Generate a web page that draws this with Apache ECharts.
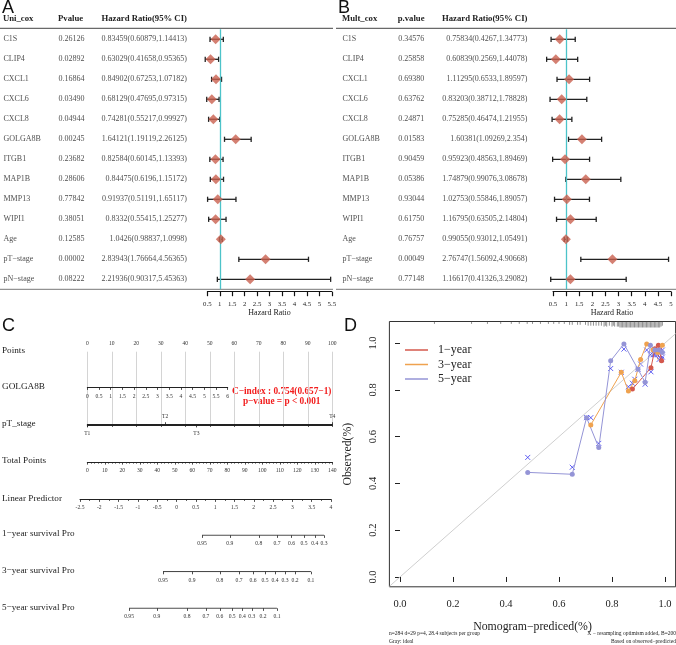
<!DOCTYPE html>
<html>
<head>
<meta charset="utf-8">
<script src="https://cdn.jsdelivr.net/npm/echarts@6/dist/echarts.min.js"></script>
<style>html,body{margin:0;padding:0;background:#fff}#main{width:676px;height:645px}</style>
</head>
<body>
<div id="main"></div>
<script>
// ---- data ----
var genes = ['C1S','CLIP4','CXCL1','CXCL6','CXCL8','GOLGA8B','ITGB1','MAP1B','MMP13','WIPI1','Age','pT\u2212stage','pN\u2212stage'];
var uniP = ['0.26126','0.02892','0.16864','0.03490','0.04944','0.00245','0.23682','0.28606','0.77842','0.38051','0.12585','0.00002','0.08222'];
var uniHR = [0.83459,0.63029,0.84902,0.68129,0.74281,1.64121,0.82584,0.84475,0.91937,0.8332,1.0426,2.83943,2.21936];
var uniLow = [0.60879,0.41658,0.67253,0.47695,0.55217,1.19119,0.60145,0.6196,0.51191,0.55415,0.98837,1.76664,0.90317];
var uniHigh = [1.14413,0.95365,1.07182,0.97315,0.99927,2.26125,1.13393,1.15172,1.65117,1.25277,1.0998,4.56365,5.45363];
var multP = ['0.34576','0.25858','0.69380','0.63762','0.24871','0.01583','0.90459','0.05386','0.93044','0.61750','0.76757','0.00049','0.77148'];
var multHR = [0.75834,0.60839,1.11295,0.83203,0.75285,1.60381,0.95923,1.74879,1.02753,1.16795,0.99055,2.76747,1.16617];
var multLow = [0.4267,0.2569,0.6533,0.38712,0.46474,1.09269,0.48563,0.99076,0.55846,0.63505,0.93012,1.56092,0.41326];
var multHigh = [1.34773,1.44078,1.89597,1.78828,1.21955,2.354,1.89469,3.08678,1.89057,2.14804,1.05491,4.90668,3.29082];

// nomogram scales
var pointsRange = [0, 100];
var golgaRange = [0, 6];
var ptStages = ['T1','T2','T3','T4'];
var ptPoints = [0, 31.8, 44.5, 100];
var totalRange = [0, 140];
var lpRange = [-2.5, 4];
var surv1Labels = ['0.95','0.9','0.8','0.7','0.6','0.5','0.4','0.3'];
var surv1LP = [0.66,1.38,2.13,2.60,2.98,3.30,3.58,3.82];
var surv3Labels = ['0.95','0.9','0.8','0.7','0.6','0.5','0.4','0.3','0.2','0.1'];
var surv3LP = [-0.35,0.40,1.12,1.62,1.98,2.29,2.55,2.81,3.07,3.48];
var surv5Labels = ['0.95','0.9','0.8','0.7','0.6','0.5','0.4','0.3','0.2','0.1'];
var surv5LP = [-1.23,-0.51,0.27,0.76,1.12,1.44,1.70,1.95,2.24,2.60];

// calibration
var calTicks = [0, 0.2, 0.4, 0.6, 0.8, 1.0];
var cal1Pred = [0.877,0.947,0.962,0.975,0.987];
var cal1Obs = [0.803,0.894,0.975,0.99,0.924];
var cal1X = [0.828,0.877,0.96,0.97,0.93];
var cal1ErrLow = [null,null,null,0.94,0.92];
var cal1ErrHigh = [null,null,null,1.0,0.985];
var cal3Pred = [0.72,0.835,0.862,0.886,0.908,0.931,0.955,0.972,0.99];
var cal3Obs = [0.65,0.875,0.795,0.839,0.930,0.996,0.97,0.96,0.99];
var cal3X = [0.681,0.875,0.813,0.845,0.91,0.97,0.95,0.95,0.97];
var cal3ErrLow = [null,null,null,null,null,null,0.94,0.93,null];
var cal3ErrHigh = [null,null,null,null,null,null,0.99,0.99,null];
var cal5Pred = [0.482,0.65,0.704,0.75,0.795,0.845,0.898,0.925,0.945,0.962,0.978,0.99];
var cal5Obs = [0.447,0.439,0.681,0.553,0.924,0.996,0.888,0.832,0.99,0.97,0.97,0.96];
var cal5X = [0.511,0.469,0.681,0.571,0.891,0.974,0.888,0.824,0.95,0.95,0.93,0.94];
var cal5ErrLow = [null,null,null,null,null,null,null,null,null,null,null,null];
var cal5ErrHigh = [null,null,null,null,null,null,null,null,null,null,null,null];
var rugPred = [0.13,0.27,0.33,0.38,0.42,0.45,0.48,0.50,0.53,0.56,0.58,0.60,0.62,0.64,0.65,0.67,0.68,0.70,0.71,0.72,
    0.73,0.74,0.75,0.76,0.77,0.775,0.78,0.79,0.80,0.805,0.81,0.82,0.825,0.83,0.835,0.84,0.845,0.85,0.855,0.86,
    0.865,0.87,0.875,0.88,0.885,0.89,0.895,0.9,0.905,0.91,0.915,0.92,0.925,0.93,0.935,0.94,0.945,0.95,0.955,0.96,
    0.965,0.97,0.975,0.98,0.985,0.99];

var SERIF = '"Liberation Serif", "DejaVu Serif", serif';
var SANS = '"Liberation Sans", Arial, sans-serif';

var myChart = echarts.init(document.getElementById('main'));

var grids = [], xAxes = [], yAxes = [], series = [], graphics = [];
function addGrid(g) { g.outerBoundsMode = 'none'; grids.push(g); return grids.length - 1; }
function addX(a) { xAxes.push(a); return xAxes.length - 1; }
function addY(a) { yAxes.push(a); return yAxes.length - 1; }
function text(t, x, y, opt) {
    opt = opt || {};
    graphics.push({type: 'text', silent: true, x: x, y: y, style: {
        text: t, fill: opt.color || '#222', textAlign: opt.align || 'left', textVerticalAlign: 'middle',
        font: (opt.weight || 'normal') + ' ' + (opt.size || 8) + 'px ' + (opt.family || SERIF)
    }});
}
function hline(x1, x2, y, color) {
    graphics.push({type: 'line', silent: true, shape: {x1: x1, y1: y, x2: x2, y2: y}, style: {stroke: color, lineWidth: 1}});
}
function lookup(vals, labs) {
    return function (v) {
        for (var i = 0; i < vals.length; i++) if (Math.abs(vals[i] - v) < 1e-6) return labs[i];
        return '';
    };
}

// ---- forest panels (A, B) ----
var ROW_TOP = 29.3, ROW_H = 20;
function forestPanel(p) {
    var n = p.names.length;
    var gT = addGrid({left: p.x0, top: ROW_TOP, width: 200, height: ROW_H * n});
    var xT = addX({gridIndex: gT, type: 'value', min: 0, max: 200, show: false});
    var yT = addY({gridIndex: gT, type: 'category', data: p.names, inverse: true, show: false});
    function col(x, texts, side) {
        series.push({type: 'scatter', xAxisIndex: xT, yAxisIndex: yT, silent: true, symbolSize: 1,
            itemStyle: {color: 'rgba(0,0,0,0)'},
            data: texts.map(function (t, i) { return [x, i]; }),
            label: {show: true, position: side, distance: 0, fontFamily: SERIF, fontSize: 8, color: '#222',
                formatter: function (q) { return texts[q.dataIndex]; }}
        });
    }
    var hrText = p.hr.map(function (h, i) { return h + '(' + p.low[i] + ',' + p.high[i] + ')'; });
    col(p.nameX, p.names, 'right');
    col(p.pX, p.pv, 'right');
    col(p.hrX, hrText, 'left');

    var gP = addGrid({left: p.plotLeft, top: ROW_TOP, width: p.plotWidth, height: ROW_H * n});
    var xP = addX({gridIndex: gP, type: 'value', min: 0.5, max: p.max, interval: 0.5, position: 'bottom', offset: 2.4,
        axisLine: {show: true, lineStyle: {color: '#111', width: 1}},
        axisTick: {show: true, length: 4.5, lineStyle: {color: '#111', width: 1.2}},
        axisLabel: {fontFamily: SERIF, fontSize: 6.8, color: '#222', margin: 9},
        splitLine: {show: false},
        name: 'Hazard Ratio', nameLocation: 'middle', nameGap: 17,
        nameTextStyle: {fontFamily: SERIF, fontSize: 8, color: '#222'}});
    var yP = addY({gridIndex: gP, type: 'category', data: p.names, inverse: true, show: false});
    series.push({type: 'custom', xAxisIndex: xP, yAxisIndex: yP, silent: true, clip: false,
        data: p.hr.map(function (h, i) { return [p.low[i], p.high[i], i]; }),
        renderItem: function (params, api) {
            var a = api.coord([api.value(0), api.value(2)]);
            var b = api.coord([api.value(1), api.value(2)]);
            var c = 2.6, st = {stroke: '#222', lineWidth: 1.3};
            return {type: 'group', children: [
                {type: 'line', shape: {x1: a[0], y1: a[1], x2: b[0], y2: b[1]}, style: st},
                {type: 'line', shape: {x1: a[0], y1: a[1] - c, x2: a[0], y2: a[1] + c}, style: st},
                {type: 'line', shape: {x1: b[0], y1: b[1] - c, x2: b[0], y2: b[1] + c}, style: st}
            ]};
        },
        markLine: {silent: true, symbol: 'none', label: {show: false},
            lineStyle: {color: '#4cc3c9', width: 1.3, type: 'solid'}, data: [{xAxis: 1}]}
    });
    series.push({type: 'scatter', xAxisIndex: xP, yAxisIndex: yP, silent: true, symbol: 'diamond', symbolSize: [10, 10],
        itemStyle: {color: '#C9604F'}, z: 5,
        data: p.hr.map(function (h, i) { return [h, i]; })});

    text(p.letter, p.x0 + 2, 8, {size: 18, family: SANS, color: '#111'});
    text(p.heads[0], p.x0 + p.nameX, 19, {weight: 'bold', size: 8.7});
    text(p.heads[1], p.x0 + p.pX, 19, {weight: 'bold', size: 8.7});
    text(p.heads[2], p.x0 + p.hX, 19, {weight: 'bold', size: 8.7});
    hline(p.x0, p.x0 + p.lineW, 28.3, '#444');
    hline(p.x0, p.x0 + p.lineW, 289.3, '#777');
}

forestPanel({letter: 'A', x0: 0, nameX: 3, pX: 58, hrX: 187.3, hX: 101.5, lineW: 333,
    heads: ['Uni_cox', 'Pvalue', 'Hazard Ratio(95% CI)'],
    names: genes, pv: uniP, hr: uniHR, low: uniLow, high: uniHigh,
    plotLeft: 207.3, plotWidth: 124.5, max: 5.5});
forestPanel({letter: 'B', x0: 336, nameX: 6, pX: 61.7, hrX: 192, hX: 106, lineW: 340,
    heads: ['Mult_cox', 'p.value', 'Hazard Ratio(95% CI)'],
    names: genes, pv: multP, hr: multHR, low: multLow, high: multHigh,
    plotLeft: 553, plotWidth: 118, max: 5});

// ---- nomogram (C) ----
var tickStyle = {color: '#222', width: 0.8};
var nomoLabel = {fontFamily: SERIF, fontSize: 5.6, color: '#333', margin: 5.5, hideOverlap: false};
var lineOn = {show: true, lineStyle: {color: '#222', width: 1}};
function hiddenY(g) { return addY({gridIndex: g, type: 'value', min: 0, max: 1, show: false}); }

// Points
var gPts = addGrid({left: 87.3, top: 351.7, width: 245, height: 72.6});
addX({gridIndex: gPts, type: 'value', position: 'top', min: pointsRange[0], max: pointsRange[1], interval: 10,
    axisLine: lineOn,
    axisTick: {show: true, inside: true, length: 2.6, lineStyle: tickStyle},
    minorTick: {show: true, splitNumber: 5, length: 1.6, lineStyle: tickStyle},
    axisLabel: Object.assign({}, nomoLabel, {margin: 5}),
    splitLine: {show: true, lineStyle: {color: '#d4d4d4', width: 1}}});
hiddenY(gPts);

// GOLGA8B
var gGol = addGrid({left: 87.3, top: 377, width: 140.4, height: 10.3});
addX({gridIndex: gGol, type: 'value', position: 'bottom', min: golgaRange[0], max: golgaRange[1], interval: 0.5,
    axisLine: lineOn,
    axisTick: {show: true, length: 2.6, lineStyle: tickStyle},
    axisLabel: Object.assign({}, nomoLabel, {margin: 6.5}), splitLine: {show: false}});
hiddenY(gGol);

// pT_stage
var gPt = addGrid({left: 87.3, top: 423.8, width: 245, height: 1});
addX({gridIndex: gPt, type: 'value', position: 'top', min: pointsRange[0], max: pointsRange[1],
    axisLine: {show: false},
    axisTick: {show: true, length: 2.6, lineStyle: tickStyle, customValues: [ptPoints[1], ptPoints[3]]},
    axisLabel: Object.assign({}, nomoLabel, {margin: 4.5, customValues: [ptPoints[1], ptPoints[3]], formatter: lookup(ptPoints, ptStages)}),
    splitLine: {show: false}});
addX({gridIndex: gPt, type: 'value', position: 'bottom', min: pointsRange[0], max: pointsRange[1],
    axisLine: lineOn,
    axisTick: {show: true, length: 2.6, lineStyle: tickStyle, customValues: [ptPoints[0], ptPoints[2]]},
    axisLabel: Object.assign({}, nomoLabel, {customValues: [ptPoints[0], ptPoints[2]], formatter: lookup(ptPoints, ptStages)}),
    splitLine: {show: false}});
hiddenY(gPt);

// Total Points
var gTot = addGrid({left: 87.3, top: 452, width: 245, height: 10});
addX({gridIndex: gTot, type: 'value', position: 'bottom', min: totalRange[0], max: totalRange[1], interval: 10,
    axisLine: lineOn,
    axisTick: {show: true, length: 2.6, lineStyle: tickStyle},
    minorTick: {show: true, splitNumber: 5, length: 1.6, lineStyle: tickStyle},
    axisLabel: nomoLabel, splitLine: {show: false}});
hiddenY(gTot);

// Linear predictor
var gLp = addGrid({left: 80, top: 489.3, width: 251, height: 10});
addX({gridIndex: gLp, type: 'value', position: 'bottom', min: lpRange[0], max: lpRange[1], interval: 0.5,
    axisLine: lineOn,
    axisTick: {show: true, length: 2.6, lineStyle: tickStyle},
    minorTick: {show: true, splitNumber: 2, length: 1.6, lineStyle: tickStyle},
    axisLabel: Object.assign({}, nomoLabel, {margin: 5}), splitLine: {show: false}});
hiddenY(gLp);

// survival scales
function survRow(bottomY, lps, labs) {
    var g = addGrid({left: 80, top: bottomY - 10, width: 251, height: 10});
    var xi = addX({gridIndex: g, type: 'value', position: 'bottom', min: lpRange[0], max: lpRange[1],
        axisLine: {show: false},
        axisTick: {show: true, length: 2.6, lineStyle: tickStyle, customValues: lps},
        axisLabel: Object.assign({}, nomoLabel, {customValues: lps, formatter: lookup(lps, labs)}),
        splitLine: {show: false}});
    var yi = hiddenY(g);
    series.push({type: 'line', xAxisIndex: xi, yAxisIndex: yi, silent: true, symbol: 'none',
        lineStyle: {color: '#222', width: 1},
        data: [[lps[0], 0], [lps[lps.length - 1], 0]]});
}
survRow(535.3, surv1LP, surv1Labels);
survRow(571.7, surv3LP, surv3Labels);
survRow(608.3, surv5LP, surv5Labels);

var rowNames = [['Points', 351.7], ['GOLGA8B', 387.7], ['pT_stage', 424.3], ['Total Points', 461.7],
    ['Linear Predictor', 499.3], ['1\u2212year survival Pro', 535], ['3\u2212year survival Pro', 571.7], ['5\u2212year survival Pro', 608.3]];
rowNames.forEach(function (r) { text(r[0], 2, r[1] - 1, {size: 9.2}); });
text('C', 2, 326, {size: 18, family: SANS, color: '#111'});
text('C\u2212index : 0.754(0.657\u22121)', 281.7, 391.7, {size: 9.3, weight: 'bold', color: '#f21c1c', align: 'center'});
text('p\u2212value = p < 0.001', 281.7, 401.7, {size: 9.3, weight: 'bold', color: '#f21c1c', align: 'center'});

// ---- calibration (D) ----
var xMin = -0.04, xMax = 1.04, yMin = -0.042, yMax = 1.092;
var gD = addGrid({left: 389.4, top: 321.5, width: 286.2, height: 265.3, show: true, borderColor: '#333', borderWidth: 1});
var xD = addX({gridIndex: gD, type: 'value', min: xMin, max: xMax,
    axisLine: {show: false},
    axisTick: {show: true, customValues: calTicks, length: 5, lineStyle: {color: '#222', width: 1}},
    axisLabel: {customValues: calTicks, formatter: function (v) { return v.toFixed(1); },
        fontFamily: SERIF, fontSize: 10.5, color: '#222', margin: 12},
    splitLine: {show: false},
    name: 'Nomogram\u2212prediced(%)', nameLocation: 'middle', nameGap: 34,
    nameTextStyle: {fontFamily: SERIF, fontSize: 11.8, color: '#222'}});
var yD = addY({gridIndex: gD, type: 'value', min: yMin, max: yMax,
    axisLine: {show: false},
    axisTick: {show: true, customValues: calTicks, length: 5, lineStyle: {color: '#222', width: 1}},
    axisLabel: {customValues: calTicks, formatter: function (v) { return v.toFixed(1); }, rotate: 90,
        fontFamily: SERIF, fontSize: 10.5, color: '#222', margin: 11},
    splitLine: {show: false},
    name: 'Observed(%)', nameLocation: 'middle', nameGap: 36,
    nameTextStyle: {fontFamily: SERIF, fontSize: 11.8, color: '#222'}});

series.push({type: 'line', xAxisIndex: xD, yAxisIndex: yD, silent: true, symbol: 'none',
    lineStyle: {color: '#cfcfcf', width: 1}, data: [[xMin, xMin], [xMax, xMax]]});

// distribution of predicted values along the top edge; tick length grows with local density
series.push({type: 'custom', xAxisIndex: xD, yAxisIndex: yD, silent: true,
    data: rugPred.map(function (p) { return [p]; }),
    renderItem: function (params, api) {
        var v = api.value(0);
        var near = rugPred.filter(function (q) { return Math.abs(q - v) <= 0.012; }).length;
        var x = api.coord([v, yMax])[0];
        var top = params.coordSys.y;
        var len = Math.min(1.5 + near * 0.9, 7);
        return {type: 'line', shape: {x1: x, y1: top, x2: x, y2: top + len}, style: {stroke: '#444', lineWidth: 0.6}};
    }});

var calSets = [
    {name: '1\u2212year', color: '#D4584C', pred: cal1Pred, obs: cal1Obs, x: cal1X, lo: cal1ErrLow, hi: cal1ErrHigh},
    {name: '3\u2212year', color: '#EFA24F', pred: cal3Pred, obs: cal3Obs, x: cal3X, lo: cal3ErrLow, hi: cal3ErrHigh},
    {name: '5\u2212year', color: '#9494D6', pred: cal5Pred, obs: cal5Obs, x: cal5X, lo: cal5ErrLow, hi: cal5ErrHigh}
];
calSets.forEach(function (s) {
    // dashed error bars where they are visible in the cluster
    series.push({type: 'custom', xAxisIndex: xD, yAxisIndex: yD, silent: true,
        data: s.pred.map(function (p, i) { return [p, s.lo[i], s.hi[i]]; })
            .filter(function (d) { return d[1] != null; }),
        renderItem: function (params, api) {
            var a = api.coord([api.value(0), api.value(1)]);
            var b = api.coord([api.value(0), api.value(2)]);
            return {type: 'line', shape: {x1: a[0], y1: a[1], x2: b[0], y2: b[1]},
                style: {stroke: s.color, lineWidth: 1, lineDash: [2, 2]}};
        }});
    series.push({name: s.name, type: 'line', xAxisIndex: xD, yAxisIndex: yD, silent: true,
        symbol: 'circle', symbolSize: 5, color: s.color, lineStyle: {width: 1},
        data: s.pred.map(function (p, i) { return [p, s.obs[i]]; })});
    series.push({type: 'scatter', xAxisIndex: xD, yAxisIndex: yD, silent: true,
        symbol: 'path://M0,0L10,10M10,0L0,10', symbolSize: 5,
        itemStyle: {color: 'rgba(0,0,0,0)', borderColor: '#3838F0', borderWidth: 1},
        data: s.pred.map(function (p, i) { return [p, s.x[i]]; })});
});

text('D', 344, 326, {size: 18, family: SANS, color: '#111'});
text('n=284 d=29 p=4, 28.4 subjects per group', 389, 634, {size: 5.5});
text('Gray: ideal', 389, 641.5, {size: 5.5});
text('X \u2212 resampling optimism added, B=200', 676, 634, {size: 5.5, align: 'right'});
text('Based on observed\u2212predicted', 676, 641.5, {size: 5.5, align: 'right'});

var option = {
    animation: false,
    textStyle: {fontFamily: SERIF},
    grid: grids,
    xAxis: xAxes,
    yAxis: yAxes,
    legend: {data: calSets.map(function (s) { return s.name; }), orient: 'vertical', left: 400, top: 339,
        itemWidth: 23, itemHeight: 1.5, icon: 'rect', itemGap: 2.5,
        textStyle: {fontFamily: SERIF, fontSize: 12, color: '#222', padding: [0, 0, 0, 5]}},
    series: series,
    graphic: graphics
};
myChart.setOption(option);
</script>
</body>
</html>
